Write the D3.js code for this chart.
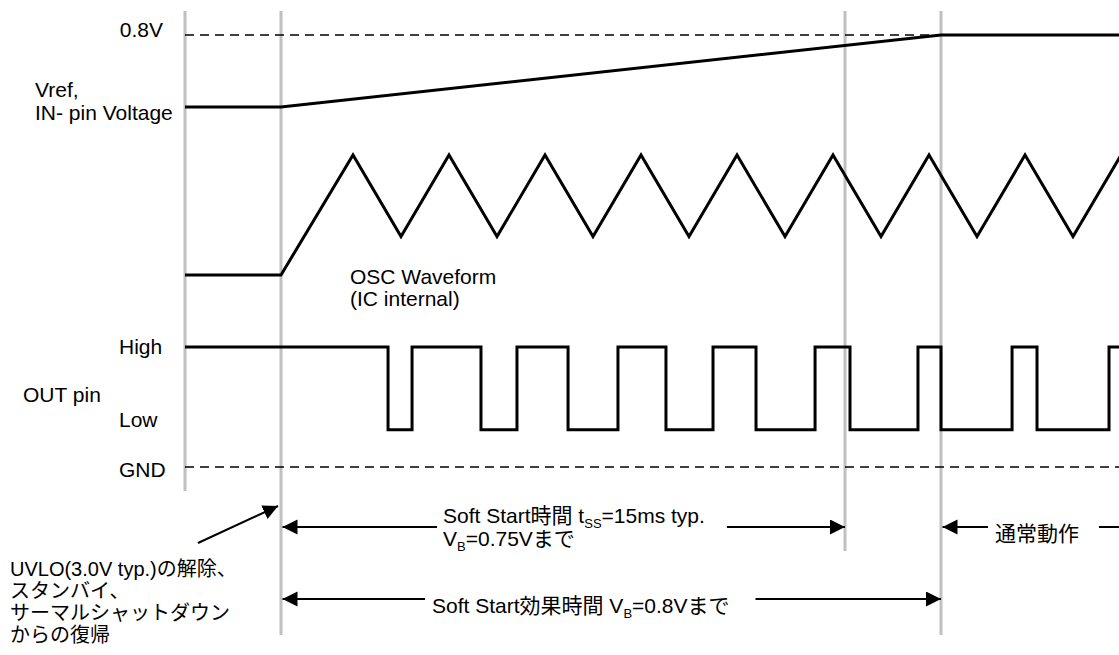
<!DOCTYPE html>
<html>
<head>
<meta charset="utf-8">
<script src="https://cdn.jsdelivr.net/npm/d3@7"></script>
<style>
	body{margin:0;background:#fff;}
	svg text{font-family:"Liberation Sans",Arial,"Noto Sans CJK JP",sans-serif;font-size:21px;fill:#000;}
	svg text.uvlo{font-size:20px;}
</style>
</head>
<body>
<svg id="chart" width="1119" height="655"></svg>
<script>
// time unit = one OSC cycle, t=0 is the UVLO release
const timeDomain = [-1, 8.729];
const markerTimes = [-1, 0, 5.875, 6.875];

// level 0..1 inside each trace
const vrefPoints = [[-1, 0], [0, 0], [6.875, 1], [8.75, 1]];
const oscPoints = [[-1, 0], [0, 0], [0.75, 1], [1.25, 0.32], [1.75, 1], [2.25, 0.32], [2.75, 1], [3.25, 0.32],
	[3.75, 1], [4.25, 0.32], [4.75, 1], [5.25, 0.32], [5.75, 1], [6.25, 0.32], [6.75, 1], [7.25, 0.32],
	[7.75, 1], [8.25, 0.32], [8.75, 1]];
// OUT pin: 1 = High, 0.31 = Low, 0 = GND
const outPoints = [[-1, 1], [1.115, 0.31], [1.365, 1], [2.083, 0.31], [2.458, 1], [2.99, 0.31], [3.51, 1],
	[4.01, 0.31], [4.5, 1], [4.948, 0.31], [5.563, 1], [5.927, 0.31], [6.635, 1], [6.875, 0.31], [7.615, 1],
	[7.875, 0.31], [8.625, 1], [8.729, 1]];
const vrefRefLevel = 1;   // 0.8V
const gndLevel = 0;

const uvloLines = ["UVLO(3.0V typ.)の解除、", "スタンバイ、", "サーマルシャットダウン", "からの復帰"];

class TimingChart{
	constructor(id){
		this.svg = d3.select(id);
		this.x = d3.scaleLinear().domain(timeDomain).range([185, 1119]);
		this.yVref = d3.scaleLinear().domain([0, 1]).range([107, 35]);
		this.yOsc = d3.scaleLinear().domain([0, 1]).range([275, 155]);
		this.yOut = d3.scaleLinear().domain([0, 1]).range([467, 347]);
		this.markerBottoms = [491, 635, 551, 635];
	}

	doChart(){
		this.defineArrow();
		this.drawMarkers();
		this.drawDashed();
		this.drawSignals();
		this.drawLabels();
		this.drawSpans();
	}

	defineArrow(){
		this.svg.append("defs").append("marker")
			.attr("id", "head")
			.attr("markerUnits", "userSpaceOnUse")
			.attr("markerWidth", 16).attr("markerHeight", 16)
			.attr("refX", 15).attr("refY", 7.5)
			.attr("orient", "auto")
			.append("path").attr("d", "M0,0L15,7.5L0,15Z").attr("fill", "#000");
	}

	drawMarkers(){
		let x = this.x, bottoms = this.markerBottoms;
		this.svg.append("g").selectAll("line")
			.data(markerTimes)
			.enter().append("line")
			.attr("x1", d => x(d)).attr("x2", d => x(d))
			.attr("y1", 11).attr("y2", (d, i) => bottoms[i])
			.attr("stroke", "#c0c0c0").attr("stroke-width", 3);
	}

	drawDashed(){
		let x = this.x,
			levels = [this.yVref(vrefRefLevel), this.yOut(gndLevel)];
		this.svg.append("g").selectAll("line")
			.data(levels)
			.enter().append("line")
			.attr("x1", x(timeDomain[0])).attr("x2", x(timeDomain[1]))
			.attr("y1", d => d).attr("y2", d => d)
			.attr("stroke", "#000").attr("stroke-width", 1.5)
			.attr("stroke-dasharray", "9,6");
	}

	drawSignals(){
		let x = this.x,
			traces = [
				{pts: vrefPoints, y: this.yVref, curve: d3.curveLinear},
				{pts: oscPoints, y: this.yOsc, curve: d3.curveLinear},
				{pts: outPoints, y: this.yOut, curve: d3.curveStepAfter}
			];
		traces.forEach(tr => {
			let line = d3.line().x(d => x(d[0])).y(d => tr.y(d[1])).curve(tr.curve);
			this.svg.append("path")
				.attr("d", line(tr.pts))
				.attr("fill", "none")
				.attr("stroke", "#000")
				.attr("stroke-width", 3)
				.attr("stroke-linejoin", "miter");
		});
	}

	text(x, y, str, anchor="start"){
		return this.svg.append("text").attr("x", x).attr("y", y).attr("text-anchor", anchor).text(str);
	}

	drawLabels(){
		this.text(163, 37, "0.8V", "end");
		this.text(35, 97, "Vref,");
		this.text(35, 120, "IN- pin Voltage");
		this.text(350, 284, "OSC Waveform");
		this.text(350, 306, "(IC internal)");
		this.text(119, 354, "High");
		this.text(23, 402, "OUT pin");
		this.text(119, 427, "Low");
		this.text(119, 477, "GND");

		let g = this.svg.append("g");
		g.selectAll("text").data(uvloLines)
			.enter().append("text")
			.attr("class", "uvlo")
			.attr("x", 10).attr("y", (d, i) => 576 + i * 22)
			.text(d => d);

		this.arrow(198, 543, 278, 506);
	}

	// text with one subscript part: [before, sub, after]
	subText(x, y, parts){
		let t = this.svg.append("text").attr("x", x).attr("y", y);
		t.append("tspan").text(parts[0]);
		t.append("tspan").attr("dy", 5).style("font-size", "13px").text(parts[1]);
		t.append("tspan").attr("dy", -5).text(parts[2]);
		return t;
	}

	arrow(x1, y1, x2, y2){
		this.svg.append("line")
			.attr("x1", x1).attr("y1", y1).attr("x2", x2).attr("y2", y2)
			.attr("stroke", "#000").attr("stroke-width", 2)
			.attr("marker-end", "url(#head)");
	}

	plainLine(x1, y, x2){
		this.svg.append("line")
			.attr("x1", x1).attr("y1", y).attr("x2", x2).attr("y2", y)
			.attr("stroke", "#000").attr("stroke-width", 2);
	}

	drawSpans(){
		let x = this.x;

		// Soft Start time
		let ss = this.subText(443, 523, ["Soft Start時間 t", "SS", "=15ms typ."]);
		this.subText(443, 546, ["V", "B", "=0.75Vまで"]);
		let b = ss.node().getBBox();
		this.arrow(b.x - 6, 527, x(markerTimes[1]) + 1.5, 527);
		this.arrow(b.x + b.width + 22, 527, x(markerTimes[2]), 527);

		// Soft Start effect time
		let se = this.subText(432, 613, ["Soft Start効果時間 V", "B", "=0.8Vまで"]);
		b = se.node().getBBox();
		this.arrow(b.x - 7, 599, x(markerTimes[1]) + 1.5, 599);
		this.arrow(b.x + b.width + 26, 599, x(markerTimes[3]), 599);

		// normal operation
		let no = this.text(995, 541, "通常動作");
		b = no.node().getBBox();
		this.arrow(b.x - 7, 527, x(markerTimes[3]) + 1.5, 527);
		this.plainLine(b.x + b.width + 20, 527, x(timeDomain[1]) + 5);
	}
}

new TimingChart("#chart").doChart();
</script>
</body>
</html>
